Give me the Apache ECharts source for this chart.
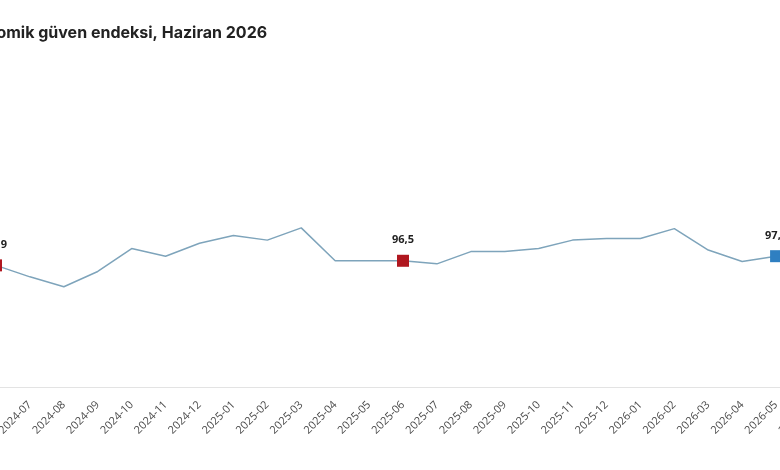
<!DOCTYPE html>
<html>
<head>
<meta charset="utf-8">
<script src="https://cdn.jsdelivr.net/npm/echarts@6/dist/echarts.min.js"></script>
<style>
    html, body { margin: 0; padding: 0; background: #fff; overflow: hidden; }
    body { width: 780px; height: 470px; position: relative; }
    /* grafik sayfadan taşıyor, kenarlar kırpılmış görünüyor */
    #chart { position: absolute; left: -100px; top: 0; width: 980px; height: 470px; }
</style>
</head>
<body>
<div id="chart"></div>
<script>
// Ekonomik güven endeksi verisi
const months = [
    '2024-06', '2024-07', '2024-08', '2024-09', '2024-10', '2024-11', '2024-12',
    '2025-01', '2025-02', '2025-03', '2025-04', '2025-05', '2025-06', '2025-07',
    '2025-08', '2025-09', '2025-10', '2025-11', '2025-12', '2026-01', '2026-02',
    '2026-03', '2026-04', '2026-05', '2026-06'
]
const values = [
    95.9, 94.4, 93.1, 95.1, 98.1, 97.1, 98.8,
    99.8, 99.2, 100.8, 96.5, 96.5, 96.5, 96.1,
    97.7, 97.7, 98.1, 99.2, 99.4, 99.4, 100.7,
    97.9, 96.4, 97.1, null
]
const redMonths = ['2024-06', '2025-06']
const blueMonths = ['2026-05']

const fmt = v => String(v).replace('.', ',')

const seriesData = values.map((v, i) => {
    const m = months[i]
    const red = redMonths.includes(m)
    const blue = blueMonths.includes(m)
    if (!red && !blue) {
        return { value: v, symbol: 'none' }
    }
    return {
        value: v,
        symbol: 'rect',
        symbolSize: 12,
        itemStyle: { color: red ? '#b0171f' : '#2f7fc1' },
        label: {
            show: true,
            position: 'top',
            distance: 9,
            formatter: p => fmt(p.value),
            color: '#222',
            fontWeight: 'bold',
            fontSize: 11,
            fontFamily: 'Open Sans'
        }
    }
})

const chart = echarts.init(document.getElementById('chart'))
chart.setOption({
    animation: false,
    title: {
        text: 'Ekonomik güven endeksi, Haziran 2026',
        left: 53,
        top: 20,
        textStyle: {
            fontFamily: 'Inter',
            fontSize: 16,
            fontWeight: 'bold',
            color: '#222'
        }
    },
    grid: {
        left: 96,
        right: 70,
        top: 81,
        bottom: 83
    },
    xAxis: {
        type: 'category',
        data: months,
        boundaryGap: false,
        axisLine: { lineStyle: { color: '#e3e3e3', width: 1 } },
        axisTick: { show: false },
        axisLabel: {
            rotate: 45,
            interval: 0,
            margin: 16,
            color: '#4a4a4a',
            fontSize: 11,
            fontFamily: 'Open Sans'
        }
    },
    yAxis: {
        type: 'value',
        min: 80,
        max: 120,
        show: false
    },
    series: [{
        type: 'line',
        data: seriesData,
        lineStyle: { color: '#7ea4bb', width: 1.5 },
        itemStyle: { color: '#7ea4bb' },
        connectNulls: false
    }]
})
</script>
</body>
</html>
